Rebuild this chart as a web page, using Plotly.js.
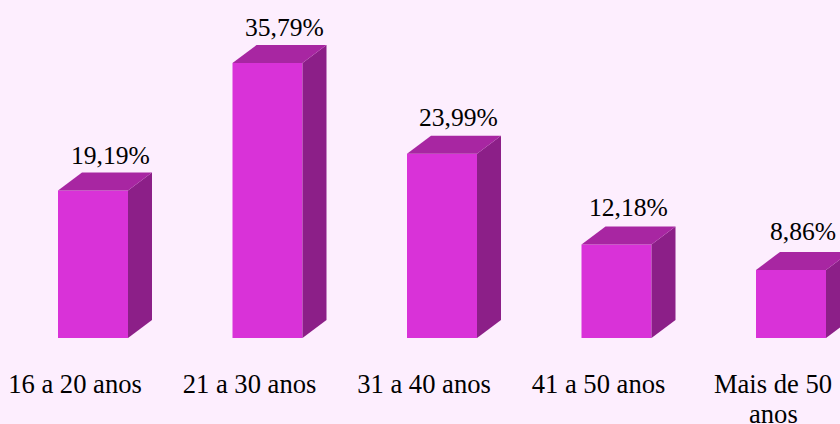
<!DOCTYPE html>
<html><head><meta charset="utf-8">
<script src="https://cdn.plot.ly/plotly-3.0.1.min.js"></script>
<style>html,body{margin:0;padding:0;background:#fdeefe;overflow:hidden}</style>
</head><body><div id="chart" style="width:840px;height:424px"></div>
<script>
const categories = ["16 a 20 anos","21 a 30 anos","31 a 40 anos","41 a 50 anos","Mais de 50"];
const wrappedLine = "anos";
const values = [19.19,35.79,23.99,12.18,8.86];
const valueLabels = ["19,19%","35,79%","23,99%","12,18%","8,86%"];
const labelNudgePx = [17.5,16.5,16.5,12,11.5];
const labelLiftPx = [1,1,2,2,4];

const W=840,H=424,baseY=338,pxPerCat=174.5,firstCenter=93,barPx=70,depthXPx=24,depthYPx=18,pxPerUnit=275/35.79,tickNudgePx=-18;
const xr=[-firstCenter/pxPerCat,(W-firstCenter)/pxPerCat], yr=[0,baseY/pxPerUnit];
const idx=values.map((_,i)=>i);
const hw=barPx/pxPerCat/2, dx=depthXPx/pxPerCat, dy=depthYPx/pxPerUnit;
const font="'Liberation Serif','Times New Roman',serif";

function face(xs,ys,color){return {type:'scatter',mode:'lines',x:xs,y:ys,fill:'toself',fillcolor:color,line:{width:0,color:color},hoverinfo:'skip',showlegend:false};}
const traces=[];
idx.forEach(i=>{const v=values[i];
  traces.push(face([i+hw,i+hw+dx,i+hw+dx,i+hw,i+hw],[0,dy,v+dy,v,0],'#8c1f88'));
  traces.push(face([i-hw,i-hw+dx,i+hw+dx,i+hw,i-hw],[v,v+dy,v+dy,v,v],'#a826a2'));
});
traces.push({type:'bar',x:idx,y:values,width:barPx/pxPerCat,marker:{color:'#d932d8',line:{width:0}},hoverinfo:'skip',showlegend:false});

const annotations=idx.map(i=>({x:i,y:values[i]+dy,xref:'x',yref:'y',text:valueLabels[i],showarrow:false,xanchor:'center',yanchor:'bottom',xshift:labelNudgePx[i],yshift:labelLiftPx[i],font:{family:font,size:25.6,color:'#000'}}));
annotations.push({x:4+tickNudgePx/pxPerCat,y:0,xref:'x',yref:'paper',text:wrappedLine,showarrow:false,xanchor:'center',yanchor:'top',yshift:-59,font:{family:font,size:26.6,color:'#000'}});

Plotly.newPlot('chart',traces,{
  width:W,height:H,margin:{l:0,r:0,t:0,b:H-baseY,pad:0},
  paper_bgcolor:'#fdeefe',plot_bgcolor:'#fdeefe',barmode:'overlay',showlegend:false,
  xaxis:{range:xr,tickmode:'array',tickvals:idx.map(i=>i+tickNudgePx/pxPerCat),ticktext:categories,showgrid:false,zeroline:false,showline:false,ticks:'outside',ticklen:22,tickcolor:'rgba(0,0,0,0)',tickangle:0,tickfont:{family:font,size:26.6,color:'#000'}},
  yaxis:{range:yr,visible:false,fixedrange:true},
  annotations
},{displayModeBar:false,staticPlot:true});
</script></body></html>
